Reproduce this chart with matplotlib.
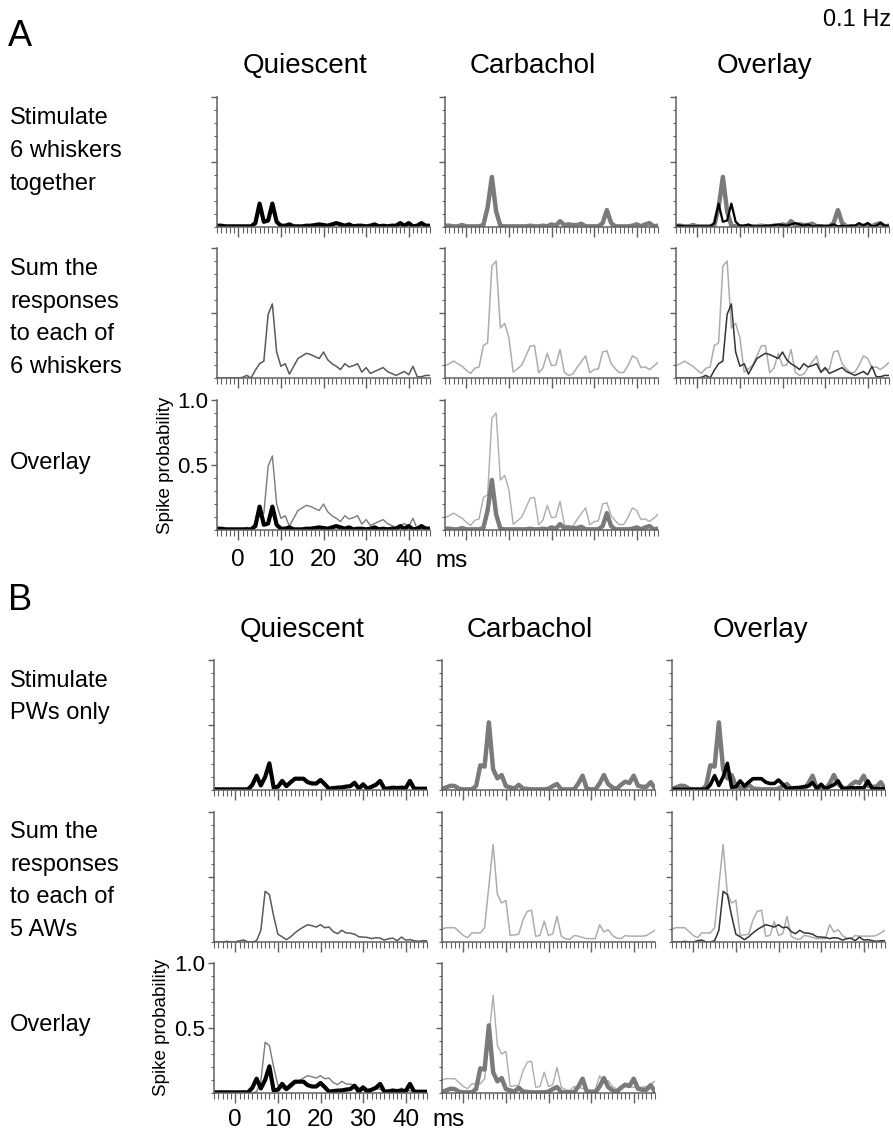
import matplotlib.pyplot as plt
from matplotlib.ticker import FixedLocator, MultipleLocator

plt.rcParams['font.family'] = ['Liberation Sans', 'DejaVu Sans']

W, H = 893, 1134

# 1 ms bins, -5 .. 45 ms
t_ms = list(range(-5, 46))

# --- panel A: 6 whiskers ---
a_quiescent_together = [
    0.01, 0.01, 0.005, 0.005, 0.005, 0.005, 0.005, 0.005, 0.005, 0.03,
    0.18, 0.04, 0.05, 0.18, 0.04, 0.01, 0.01, 0.02, 0.005, 0.005,
    0.005, 0.01, 0.01, 0.015, 0.02, 0.015, 0.01, 0.02, 0.03, 0.02,
    0.01, 0.02, 0.005, 0.01, 0.01, 0.005, 0.01, 0.02, 0.005, 0.01,
    0.005, 0.01, 0.01, 0.03, 0.01, 0.03, 0.005, 0.01, 0.03, 0.01,
    0.01]
a_quiescent_sum = [
    0.0, 0.0, 0.0, 0.0, 0.0, 0.0, 0.005, 0.02, 0.0, 0.06,
    0.11, 0.13, 0.49, 0.57, 0.2, 0.09, 0.11, 0.03, 0.09, 0.15,
    0.17, 0.19, 0.18, 0.165, 0.15, 0.2, 0.14, 0.11, 0.09, 0.065,
    0.11, 0.085, 0.095, 0.11, 0.045, 0.08, 0.035, 0.05, 0.065, 0.08,
    0.05, 0.035, 0.02, 0.035, 0.05, 0.025, 0.09, 0.01, 0.01, 0.02,
    0.02]
a_carbachol_together = [
    0.01, 0.01, 0.005, 0.005, 0.015, 0.005, 0.005, 0.005, 0.005, 0.015,
    0.15, 0.385, 0.12, 0.01, 0.005, 0.005, 0.005, 0.005, 0.005, 0.005,
    0.01, 0.005, 0.005, 0.01, 0.005, 0.02, 0.01, 0.045, 0.015, 0.02,
    0.015, 0.015, 0.025, 0.005, 0.005, 0.005, 0.005, 0.03, 0.13, 0.03,
    0.005, 0.005, 0.005, 0.005, 0.01, 0.02, 0.005, 0.02, 0.03, 0.005,
    0.01]
a_carbachol_sum = [
    0.095, 0.11, 0.13, 0.11, 0.09, 0.06, 0.035, 0.075, 0.085, 0.25,
    0.27, 0.86, 0.9, 0.385, 0.42, 0.31, 0.045, 0.07, 0.10, 0.17,
    0.245, 0.25, 0.04, 0.077, 0.19, 0.095, 0.10, 0.22, 0.045, 0.02,
    0.03, 0.08, 0.125, 0.17, 0.04, 0.065, 0.07, 0.20, 0.21, 0.11,
    0.07, 0.04, 0.045, 0.10, 0.17, 0.15, 0.08, 0.085, 0.065, 0.09,
    0.12]

# --- panel B: PW only / 5 AWs ---
b_quiescent_together = [
    0.005, 0.005, 0.005, 0.005, 0.005, 0.005, 0.005, 0.005, 0.005, 0.04,
    0.11, 0.035, 0.1, 0.205, 0.02, 0.025, 0.07, 0.03, 0.06, 0.087,
    0.087, 0.087, 0.06, 0.05, 0.05, 0.077, 0.045, 0.01, 0.015, 0.018,
    0.02, 0.026, 0.03, 0.056, 0.01, 0.044, 0.01, 0.025, 0.04, 0.07,
    0.01, 0.012, 0.018, 0.015, 0.018, 0.015, 0.07, 0.01, 0.01, 0.01,
    0.01]
b_quiescent_sum = [
    0.0, 0.0, 0.0, 0.005, 0.0, 0.0, 0.01, 0.015, 0.0, 0.0,
    0.01, 0.09, 0.39, 0.365, 0.2, 0.06, 0.04, 0.018, 0.04, 0.07,
    0.095, 0.115, 0.133, 0.125, 0.115, 0.133, 0.11, 0.115, 0.08, 0.064,
    0.09, 0.07, 0.068, 0.06, 0.04, 0.038, 0.035, 0.026, 0.033, 0.03,
    0.015, 0.025, 0.03, 0.01, 0.038, 0.015, 0.018, 0.01, 0.005, 0.01,
    0.01]
b_carbachol_together = [
    0.008, 0.02, 0.033, 0.03, 0.01, 0.005, 0.005, 0.005, 0.03, 0.19,
    0.18, 0.52, 0.16, 0.09, 0.115, 0.03, 0.02, 0.01, 0.04, 0.012,
    0.008, 0.005, 0.005, 0.005, 0.005, 0.01, 0.03, 0.046, 0.005, 0.005,
    0.005, 0.005, 0.05, 0.11, 0.01, 0.005, 0.005, 0.05, 0.115, 0.046,
    0.02, 0.008, 0.04, 0.064, 0.054, 0.11, 0.033, 0.025, 0.025, 0.06,
    0.01]
b_carbachol_sum = [
    0.10, 0.11, 0.11, 0.11, 0.08, 0.05, 0.033, 0.07, 0.07, 0.07,
    0.11, 0.43, 0.75, 0.367, 0.30, 0.32, 0.05, 0.055, 0.06, 0.17,
    0.235, 0.245, 0.044, 0.05, 0.16, 0.05, 0.064, 0.197, 0.044, 0.025,
    0.02, 0.05, 0.045, 0.035, 0.026, 0.026, 0.026, 0.133, 0.077, 0.095,
    0.05, 0.03, 0.026, 0.05, 0.045, 0.045, 0.045, 0.045, 0.05, 0.07,
    0.09]

col_titles = ['Quiescent', 'Carbachol', 'Overlay']
a_row_labels = ['Stimulate\n6 whiskers\ntogether',
                'Sum the\nresponses\nto each of\n6 whiskers',
                'Overlay']
b_row_labels = ['Stimulate\nPWs only',
                'Sum the\nresponses\nto each of\n5 AWs',
                'Overlay']
x_tick_vals = [0, 10, 20, 30, 40]
y_tick_vals = [0.5, 1.0]
y_tick_labels = ['0.5', '1.0']

AXC = '#606060'
BLACK = '#000000'
GREY = '#7a7a7a'
LIGHT = '#adadad'
DARK = '#5a5a5a'


def rect(left, top, right, bottom):
    return [left / W, 1 - bottom / H, (right - left) / W, (bottom - top) / H]


def ftext(x, y, s, **kw):
    fig.text(x / W, 1 - y / H, s, **kw)


def style(ax, labels=False, xpad=7):
    ax.set_xlim(-5, 45)
    ax.set_ylim(0, 1)
    for s in ('top', 'right'):
        ax.spines[s].set_visible(False)
    for s in ('left', 'bottom'):
        ax.spines[s].set_color(AXC)
        ax.spines[s].set_linewidth(1.1)
    ax.xaxis.set_major_locator(FixedLocator(x_tick_vals))
    ax.xaxis.set_minor_locator(MultipleLocator(1))
    ax.yaxis.set_major_locator(FixedLocator(y_tick_vals))
    ax.yaxis.set_minor_locator(MultipleLocator(0.1))
    ax.tick_params(axis='x', which='major', direction='out', length=7, width=1, color=AXC)
    ax.tick_params(axis='x', which='minor', direction='out', length=4, width=0.8, color=AXC)
    ax.tick_params(axis='y', which='major', direction='out', length=4.5, width=1, color=AXC)
    ax.tick_params(axis='y', which='minor', direction='out', length=2.5, width=0.8, color=AXC)
    if labels:
        ax.set_xticklabels([str(v) for v in x_tick_vals])
        ax.set_yticklabels(y_tick_labels)
        ax.tick_params(axis='x', labelsize=17.5, pad=xpad)
        ax.tick_params(axis='y', labelsize=16, pad=2)
    else:
        ax.tick_params(labelbottom=False, labelleft=False)


fig = plt.figure(figsize=(W / 100, H / 100), dpi=100)

panels = [
    dict(letter='A', letter_y=36, title_y=66, tops=[97, 248, 400], lefts=[217, 445, 676],
         labels=a_row_labels, label_y=[151, 318, 463], sp_y=465, xpad=7, ms_off=31,
         q_all=a_quiescent_together, q_sum=a_quiescent_sum,
         c_all=a_carbachol_together, c_sum=a_carbachol_sum, ov_black=1.6),
    dict(letter='B', letter_y=600, title_y=630, tops=[660, 812, 963], lefts=[214, 442, 672],
         labels=b_row_labels, label_y=[697, 881, 1025], sp_y=1027, xpad=4.5, ms_off=27,
         q_all=b_quiescent_together, q_sum=b_quiescent_sum,
         c_all=b_carbachol_together, c_sum=b_carbachol_sum, ov_black=2.6),
]

for p in panels:
    ftext(8, p['letter_y'], p['letter'], fontsize=26, va='center', ha='left')
    for left, title in zip(p['lefts'], col_titles):
        ftext(left + 88, p['title_y'], title, fontsize=20, va='center', ha='center')
    for y, lab in zip(p['label_y'], p['labels']):
        ftext(10, y, lab, fontsize=17, va='center', ha='left', linespacing=1.62)

    axes = {}
    for r, top in enumerate(p['tops']):
        for c, left in enumerate(p['lefts']):
            if r == 2 and c == 2:
                continue
            ax = fig.add_axes(rect(left, top, left + 213, top + 130))
            style(ax, labels=(r == 2 and c == 0), xpad=p['xpad'])
            axes[(r, c)] = ax

    t = t_ms
    axes[(0, 0)].plot(t, p['q_all'], color=BLACK, lw=3)
    axes[(0, 1)].plot(t, p['c_all'], color=GREY, lw=3.2)
    axes[(0, 2)].plot(t, p['c_all'], color=GREY, lw=3.2)
    axes[(0, 2)].plot(t, p['q_all'], color=BLACK, lw=p['ov_black'])

    axes[(1, 0)].plot(t, p['q_sum'], color=DARK, lw=1.1)
    axes[(1, 1)].plot(t, p['c_sum'], color=LIGHT, lw=1.1)
    axes[(1, 2)].plot(t, p['c_sum'], color=LIGHT, lw=1.1)
    axes[(1, 2)].plot(t, p['q_sum'], color='#333333', lw=1.1)

    axes[(2, 0)].plot(t, p['q_sum'], color=GREY, lw=1.0)
    axes[(2, 0)].plot(t, p['q_all'], color=BLACK, lw=3)
    axes[(2, 1)].plot(t, p['c_sum'], color=LIGHT, lw=1.0)
    axes[(2, 1)].plot(t, p['c_all'], color=GREY, lw=3.2)

    ftext(p['lefts'][0] - 52, p['sp_y'], 'Spike probability', fontsize=13.5, rotation=90,
          va='center', ha='center')
    ms_y = p['tops'][2] + 130 + p['ms_off']
    ftext(p['lefts'][0] + 218, ms_y, 'ms', fontsize=17.5, va='center', ha='left')

ftext(891, 20, '0.1 Hz', fontsize=17, va='center', ha='right')

fig.savefig('out.png', dpi=100)
